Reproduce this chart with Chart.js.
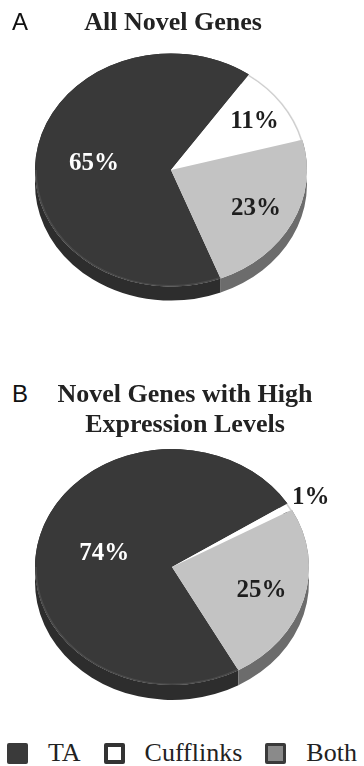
<!DOCTYPE html>
<html>
<head>
<meta charset="utf-8">
<script src="https://cdn.jsdelivr.net/npm/chart.js@4.4.1/dist/chart.umd.min.js"></script>
<style>
  html, body { margin: 0; padding: 0; background: #fff; }
  body { width: 364px; height: 766px; position: relative; overflow: hidden; }
  canvas { position: absolute; left: 0; }
  .panel { position: absolute; left: 12px; font-family: "Liberation Sans", Arial, sans-serif;
           font-size: 24px; line-height: 1; color: #111; z-index: 2; }
  .title { position: absolute; text-align: center; font-family: "Liberation Serif", "Times New Roman", serif;
           font-weight: bold; font-size: 26px; color: #222; z-index: 2; }
  #legend { position: absolute; left: 7px; top: 740px; display: flex; align-items: center;
            font-family: "Liberation Serif", "Times New Roman", serif; font-size: 26px; color: #222; line-height: 1; }
  #legend .sw { width: 21px; height: 21px; box-sizing: border-box; border-radius: 2px; margin-right: 20px; }
  #legend .tx { margin-right: 23px; }
</style>
</head>
<body>
<div class="panel" style="top:10px">A</div>
<div class="title" style="left:0; width:346px; top:9px; line-height:25px">All Novel Genes</div>
<canvas id="pieA" width="364" height="290" style="top:30px"></canvas>

<div class="panel" style="top:382px">B</div>
<div class="title" style="left:6px; width:358px; top:379px; line-height:30px">Novel Genes with High<br>Expression Levels</div>
<canvas id="pieB" width="364" height="290" style="top:425px"></canvas>

<div id="legend"></div>

<script>
// Categories and shares (percent of novel genes found by each method)
const categories = ['TA', 'Cufflinks', 'Both'];
const allNovelShare = [65, 11, 23];
const highExprShare = [74, 1, 25];

// Slice styling
const topColors  = ['#393939', '#ffffff', '#c3c3c3'];
const sideColors = ['#2d2d2d', '#e6e6e6', '#6c6c6c'];
const labelColors = ['#ffffff', '#1e1e1e', '#1e1e1e'];
const swatchStyles = [
  'background:#3a3a3a;',
  'background:#ffffff;border:4px solid #333;',
  'background:#8a8a8a;border:3px solid #3a3a3a;'
];

// Tilts the pie into an ellipse, extrudes a rim below it and writes the percentages.
const tiltPlugin = {
  id: 'tilt',
  beforeDatasetsDraw(chart, args, o) {
    const ctx = chart.ctx;
    const arcs = chart.getDatasetMeta(0).data;
    const { x, y, outerRadius: r } = arcs[0];
    ctx.save();
    ctx.translate(x, y); ctx.scale(1, o.squash); ctx.translate(-x, -y);
    const d = o.depth / o.squash;
    arcs.forEach((a, i) => {
      ctx.beginPath();
      ctx.arc(x, y, r, a.startAngle, a.endAngle);
      ctx.arc(x, y + d, r, a.endAngle, a.startAngle, true);
      ctx.closePath();
      ctx.fillStyle = sideColors[i];
      ctx.fill();
    });
  },
  afterDatasetsDraw(chart, args, o) {
    const ctx = chart.ctx;
    const arcs = chart.getDatasetMeta(0).data;
    const { x, y, outerRadius: r } = arcs[0];
    // rim highlights on the top face
    ctx.lineWidth = 1.5;
    arcs.forEach((a, i) => {
      if (i === 0) {
        const s = Math.max(a.startAngle, 0), e = Math.min(a.endAngle, Math.PI);
        if (e > s) {
          ctx.beginPath(); ctx.arc(x, y, r - 1, s, e);
          ctx.strokeStyle = '#4a4a4a'; ctx.stroke();
        }
      } else if (i === 1) {
        ctx.beginPath(); ctx.arc(x, y, r - 1, a.startAngle, a.endAngle);
        ctx.strokeStyle = '#cfcfcf'; ctx.stroke();
      }
    });
    ctx.restore();

    const values = chart.data.datasets[0].data;
    ctx.save();
    ctx.font = 'bold 25px "Liberation Serif", "Times New Roman", serif';
    ctx.textAlign = 'center';
    ctx.textBaseline = 'alphabetic';
    arcs.forEach((a, i) => {
      const mid = (a.startAngle + a.endAngle) / 2;
      const f = o.labelRadius[i];
      const px = x + Math.cos(mid) * r * f;
      const py = y + Math.sin(mid) * r * f * o.squash;
      ctx.fillStyle = f > 1 ? '#1e1e1e' : labelColors[i];
      ctx.fillText(values[i] + '%', px, py + 8);
    });
    ctx.restore();
  }
};

function tiltedPie(id, values, rotation, padding, tilt) {
  return new Chart(document.getElementById(id), {
    type: 'pie',
    data: {
      labels: categories,
      datasets: [{ data: values, backgroundColor: topColors, borderWidth: 0, hoverOffset: 0 }]
    },
    options: {
      responsive: false,
      animation: false,
      rotation: rotation,
      layout: { padding: padding },
      events: [],
      plugins: {
        legend: { display: false },
        tooltip: { enabled: false },
        tilt: tilt
      }
    },
    plugins: [tiltPlugin]
  });
}

tiltedPie('pieA', allNovelShare, 158.6,
  { left: 35, right: 57, top: 4, bottom: 14 },
  { squash: 0.857, depth: 14, labelRadius: [0.57, 0.75, 0.70] });

tiltedPie('pieB', highExprShare, 151,
  { left: 35, right: 55, top: 5, bottom: 11 },
  { squash: 0.861, depth: 15, labelRadius: [0.51, 1.18, 0.68] });

// Legend built from the category list
const legend = document.getElementById('legend');
categories.forEach((c, i) => {
  const sw = document.createElement('span');
  sw.className = 'sw';
  sw.style.cssText = swatchStyles[i];
  const tx = document.createElement('span');
  tx.className = 'tx';
  tx.textContent = c;
  legend.appendChild(sw);
  legend.appendChild(tx);
});
</script>
</body>
</html>
